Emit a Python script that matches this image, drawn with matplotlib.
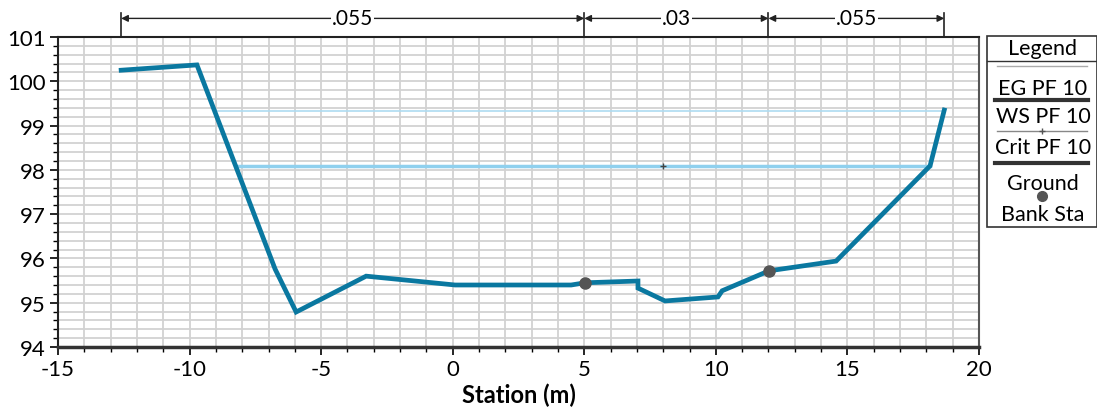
import numpy as np
import matplotlib.pyplot as plt
from matplotlib.patches import Rectangle
from matplotlib.lines import Line2D
from matplotlib.ticker import MultipleLocator

plt.rcParams['font.family'] = ['Lato', 'DejaVu Sans']

# ground profile
station = [-12.6, -9.72, -6.75, -5.95, -3.29, 0.09, 4.5, 5.03, 7.04, 7.04, 8.07, 10.08, 10.24, 12.02, 14.57, 18.14, 18.68]
elev = [100.25, 100.37, 95.76, 94.79, 95.60, 95.40, 95.40, 95.45, 95.49, 95.33, 95.04, 95.13, 95.27, 95.72, 95.94, 98.09, 99.35]

# water levels
eg_x = [-9.05, 18.6]
eg_y = [99.33, 99.33]
ws_x = [-8.2, 18.14]
ws_y = [98.09, 98.09]
crit_x = [-8.2, 8.0, 18.14]
crit_y = [98.09, 98.09, 98.09]

# bank stations
bank_x = [5.03, 12.02]
bank_y = [95.45, 95.72]

# manning's n breakpoints
n_sta = [-12.6, 5.0, 12.0, 18.68]
n_val = ['.055', '.03', '.055']

fig = plt.figure(figsize=(10.97, 4.10), dpi=100)
ax = fig.add_axes([58/1097, 1-348/410, 921/1097, 310/410])

ax.set_xlim(-15, 20)
ax.set_ylim(94, 101)
ax.xaxis.set_major_locator(MultipleLocator(5))
ax.xaxis.set_minor_locator(MultipleLocator(1))
ax.yaxis.set_major_locator(MultipleLocator(1))
ax.yaxis.set_minor_locator(MultipleLocator(0.2))
ax.grid(which='both', color='#d2d2d2', lw=1.3)
ax.set_axisbelow(True)
ax.tick_params(which='major', direction='out', length=6, width=1.2, labelsize=16, pad=3)
ax.tick_params(which='minor', direction='out', length=3.5, width=1)
ax.set_xticks(range(-15, 21, 5))
ax.set_xticklabels(['-15', '-10', '-5', '0', '5', '10', '15', '20'])
for s in ['top', 'left']:
    ax.spines[s].set_color('#222222')
    ax.spines[s].set_linewidth(1.5)
ax.spines['right'].set_color('#555555')
ax.spines['right'].set_linewidth(1.5)
ax.spines['bottom'].set_color('#333333')
ax.spines['bottom'].set_linewidth(2.5)

ax.plot(eg_x, eg_y, color='#aedcf1', lw=1.2, zorder=3)
ax.plot(ws_x, ws_y, color='#8fd0ee', lw=2.5, zorder=3)
ax.plot(crit_x, crit_y, color='#8fd0ee', lw=0.8, marker='+', markevery=[1],
        markersize=5, mec='#444444', zorder=4)
ax.plot(station, elev, color='#0a78a0', lw=3.4, solid_joinstyle='miter', zorder=5)
ax.plot(bank_x, bank_y, 'o', color='#555555', markersize=8, zorder=6)

ax.set_xlabel('Station (m)', fontsize=17, fontweight='bold', labelpad=2)

# manning's n bar above the plot
tr = ax.get_xaxis_transform()
for x in n_sta:
    ax.plot([x, x], [1.0, 1.078], transform=tr, color='#222222', lw=1.2, clip_on=False)
for i, lab in enumerate(n_val):
    x0, x1 = n_sta[i], n_sta[i + 1]
    ax.annotate('', xy=(x0, 1.06), xytext=(x1, 1.06), xycoords=tr, textcoords=tr,
                arrowprops=dict(arrowstyle='<|-|>', color='#222222', lw=1, shrinkA=0, shrinkB=0,
                                mutation_scale=10))
    ax.text((x0 + x1) / 2, 1.06, lab, transform=tr, ha='center', va='center', fontsize=15,
            bbox=dict(facecolor='white', edgecolor='none', pad=0.5))

# legend box
def px(x, y):
    return x / 1097, 1 - y / 410

lx0, ly0 = px(987, 228)
lx1, ly1 = px(1097, 37)
fig.patches.append(Rectangle((lx0, ly0), lx1 - lx0, ly1 - ly0, transform=fig.transFigure,
                             facecolor='white', edgecolor='#333333', lw=1.2))
cx = 1043
fig.text(*px(cx, 49), 'Legend', ha='center', va='center', fontsize=15.5)
fig.lines.append(Line2D([lx0, lx1], [px(0, 62)[1]] * 2, transform=fig.transFigure, color='#333333', lw=1))

legend_items = ['EG PF 10', 'WS PF 10', 'Crit PF 10', 'Ground', 'Bank Sta']
text_y = [89, 117, 148, 184, 215]
for lab, ty in zip(legend_items, text_y):
    fig.text(*px(cx, ty), lab, ha='center', va='center', fontsize=15.5)

fig.lines.append(Line2D([px(997, 0)[0], px(1087, 0)[0]], [px(0, 67)[1]] * 2,
                        transform=fig.transFigure, color='#aaaaaa', lw=1))
fig.lines.append(Line2D([px(995, 0)[0], px(1088, 0)[0]], [px(0, 101)[1]] * 2,
                        transform=fig.transFigure, color='#333333', lw=3))
fig.lines.append(Line2D([px(997, 0)[0], px(1087, 0)[0]], [px(0, 132)[1]] * 2,
                        transform=fig.transFigure, color='#888888', lw=1))
fig.lines.append(Line2D([px(1042, 0)[0]], [px(0, 132)[1]], transform=fig.transFigure,
                        marker='+', color='#555555', markersize=5))
fig.lines.append(Line2D([px(995, 0)[0], px(1088, 0)[0]], [px(0, 164)[1]] * 2,
                        transform=fig.transFigure, color='#333333', lw=3))
fig.lines.append(Line2D([px(1042, 0)[0]], [px(0, 197)[1]], transform=fig.transFigure,
                        marker='o', color='#555555', markersize=7))

fig.savefig('out.png', dpi=100)
